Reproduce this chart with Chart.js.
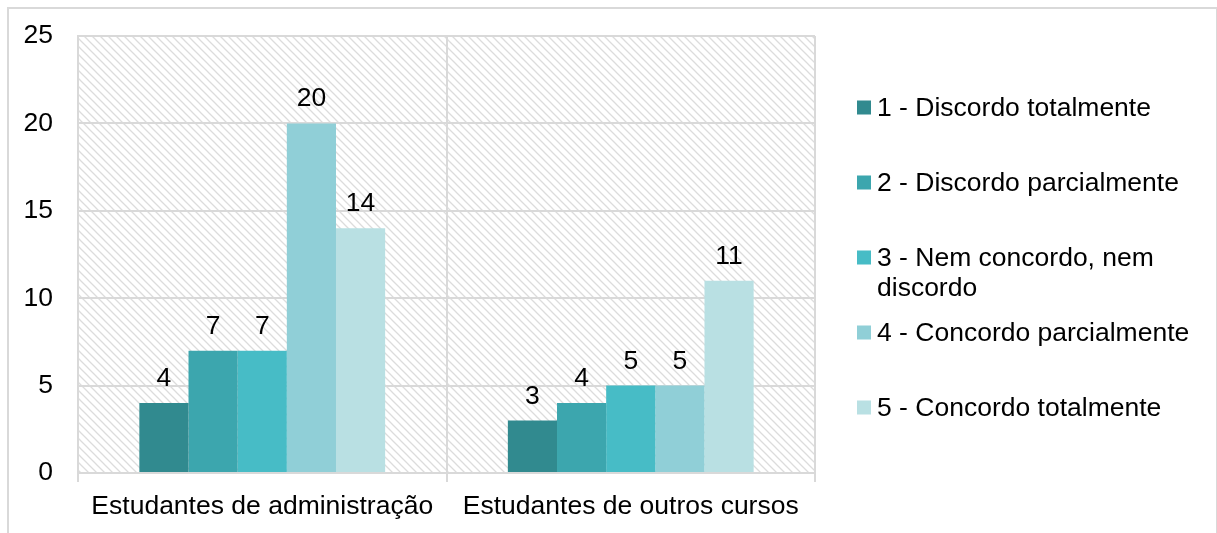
<!DOCTYPE html>
<html>
<head>
<meta charset="utf-8">
<script src="https://cdn.jsdelivr.net/npm/chart.js@4.4.1/dist/chart.umd.min.js"></script>
<style>
  html, body { margin: 0; padding: 0; background: #fff; overflow: hidden; }
  #wrap { position: relative; width: 1217px; height: 533px; }
  #frame {
    position: absolute; left: 7px; top: 7px; width: 1207px; height: 560px;
    border: 2px solid #d9d9d9; pointer-events: none;
  }
</style>
</head>
<body>
<div id="wrap">
  <canvas id="chart" width="1217" height="533"></canvas>
  <div id="frame"></div>
</div>
<script>
const groups = ['Estudantes de administração', 'Estudantes de outros cursos'];
const answers = [
  '1 - Discordo totalmente',
  '2 - Discordo parcialmente',
  '3 - Nem concordo, nem discordo',
  '4 - Concordo parcialmente',
  '5 - Concordo totalmente'
];
const discordoTotal = [4, 3];
const discordoParcial = [7, 4];
const neutro = [7, 5];
const concordoParcial = [20, 5];
const concordoTotal = [14, 11];
const yTicks = [0, 5, 10, 15, 20, 25];

const colors = ['#318a8f', '#3ca6ae', '#47bcc6', '#90cfd7', '#b9e0e3'];
const seriesValues = [discordoTotal, discordoParcial, neutro, concordoParcial, concordoTotal];

const FONT = "26.5px 'Liberation Sans', Arial, sans-serif";
Chart.defaults.font.family = "'Liberation Sans', Arial, sans-serif";
Chart.defaults.font.size = 26.5;
Chart.defaults.color = '#000';

// diagonal hatch used behind the bars
function makeHatch(ctx) {
  const tile = document.createElement('canvas');
  tile.width = 8; tile.height = 8;
  const t = tile.getContext('2d');
  t.fillStyle = '#fff';
  t.fillRect(0, 0, 8, 8);
  t.strokeStyle = '#dcdcdc';
  t.lineWidth = 1.3;
  t.beginPath();
  t.moveTo(-2, -2); t.lineTo(10, 10);
  t.moveTo(-2, 6); t.lineTo(2, 10);
  t.moveTo(6, -2); t.lineTo(10, 2);
  t.stroke();
  return ctx.createPattern(tile, 'repeat');
}

const hatchBackground = {
  id: 'hatchBackground',
  beforeDraw(chart) {
    const { ctx, chartArea: a } = chart;
    ctx.save();
    ctx.fillStyle = makeHatch(ctx);
    ctx.fillRect(a.left, a.top, a.right - a.left, a.bottom - a.top);
    ctx.restore();
  }
};

const valueLabels = {
  id: 'valueLabels',
  afterDatasetsDraw(chart) {
    const ctx = chart.ctx;
    ctx.save();
    ctx.font = FONT;
    ctx.fillStyle = '#000';
    ctx.textAlign = 'center';
    ctx.textBaseline = 'alphabetic';
    chart.data.datasets.forEach((ds, i) => {
      chart.getDatasetMeta(i).data.forEach((bar, j) => {
        ctx.fillText(String(ds.data[j]), bar.x, bar.y - 17);
      });
    });
    ctx.restore();
  }
};

function wrapText(ctx, text, maxWidth) {
  const words = text.split(' ');
  const lines = [];
  let line = '';
  words.forEach(w => {
    const test = line ? line + ' ' + w : w;
    if (line && ctx.measureText(test).width > maxWidth) {
      lines.push(line);
      line = w;
    } else {
      line = test;
    }
  });
  lines.push(line);
  return lines;
}

const sideLegend = {
  id: 'sideLegend',
  afterDraw(chart) {
    const { ctx, chartArea: a } = chart;
    const step = 75;
    const n = chart.data.datasets.length;
    const first = (a.top + a.bottom) / 2 + 3 - step * (n - 1) / 2;
    const boxX = a.right + 42;
    ctx.save();
    ctx.font = FONT;
    ctx.textAlign = 'left';
    ctx.textBaseline = 'middle';
    chart.data.datasets.forEach((ds, i) => {
      const cy = first + i * step;
      ctx.fillStyle = ds.backgroundColor;
      ctx.fillRect(boxX, cy - 7, 14, 14);
      ctx.fillStyle = '#000';
      wrapText(ctx, ds.label, 325).forEach((line, k) => {
        ctx.fillText(line, boxX + 20, cy + 1 + k * 30);
      });
    });
    ctx.restore();
  }
};

new Chart(document.getElementById('chart'), {
  type: 'bar',
  data: {
    labels: groups,
    datasets: answers.map((label, i) => ({
      label: label,
      data: seriesValues[i],
      backgroundColor: colors[i],
      borderWidth: 0,
      categoryPercentage: 0.667,
      barPercentage: 1
    }))
  },
  options: {
    responsive: false,
    animation: false,
    devicePixelRatio: 1,
    layout: { padding: { left: 0, top: 36, right: 402, bottom: 0 } },
    plugins: {
      legend: { display: false },
      title: { display: false },
      tooltip: { enabled: false }
    },
    scales: {
      x: {
        grid: { offset: true, color: '#d9d9d9', lineWidth: 2, tickLength: 9 },
        border: { color: '#d9d9d9', width: 2 },
        ticks: { padding: 9, color: '#000' },
        afterFit(scale) { scale.height = 60; }
      },
      y: {
        min: 0,
        max: 25,
        afterBuildTicks(scale) { scale.ticks = yTicks.map(v => ({ value: v })); },
        grid: { color: '#d9d9d9', lineWidth: 2, drawTicks: true, tickLength: 25, tickColor: 'rgba(0,0,0,0)' },
        border: { color: '#d9d9d9', width: 2 },
        ticks: { padding: 0, color: '#000' },
        afterFit(scale) { scale.width = 78; }
      }
    }
  },
  plugins: [hatchBackground, valueLabels, sideLegend]
});
</script>
</body>
</html>
